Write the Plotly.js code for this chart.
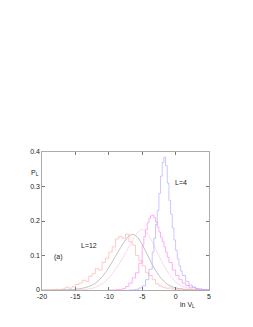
<!DOCTYPE html>
<html><head><meta charset="utf-8">
<script src="https://cdn.plot.ly/plotly-3.0.1.min.js"></script>
<style>html,body{margin:0;padding:0;background:#fff}</style>
</head><body><div id="chart" style="width:253px;height:327px"></div>
<script>
// L=4 histogram (blue)
const xBlue = [-7,-6,-5.5,-5,-4.5,-4,-3.5,-3.25,-3,-2.75,-2.5,-2.25,-2,-1.75,-1.5,-1.25,-1,-0.75,-0.5,-0.25,0,0.25,0.5,0.75,1,1.5,2,2.5,3,3.5,4,4.5,5];
const yBlue = [0,0.002,0.006,0.012,0.03,0.06,0.11,0.15,0.19,0.23,0.28,0.33,0.37,0.385,0.36,0.31,0.26,0.22,0.18,0.145,0.115,0.09,0.07,0.055,0.042,0.025,0.014,0.008,0.004,0.002,0.001,0.0005,0];
// magenta histogram
const xMag = [-10,-9,-8,-7.5,-7,-6.5,-6,-5.5,-5,-4.75,-4.5,-4.25,-4,-3.75,-3.5,-3.25,-3,-2.75,-2.5,-2.25,-2,-1.75,-1.5,-1.25,-1,-0.5,0,0.5,1,1.5,2,3,4,5];
const yMag = [0,0.001,0.004,0.01,0.02,0.035,0.05,0.078,0.13,0.155,0.175,0.195,0.207,0.215,0.217,0.21,0.197,0.183,0.168,0.153,0.14,0.125,0.11,0.095,0.08,0.058,0.042,0.03,0.02,0.013,0.008,0.003,0.001,0];
// pale pink curve
const xPale = [-15,-14,-13,-12,-11,-10,-9,-8,-7,-6,-5.5,-5,-4.5,-4,-3.5,-3,-2.5,-2,-1.5,-1,-0.5,0,1,2,3,4,5];
const yPale = [0,0.001,0.003,0.008,0.018,0.035,0.06,0.09,0.125,0.158,0.17,0.175,0.17,0.158,0.14,0.12,0.1,0.08,0.062,0.047,0.034,0.024,0.011,0.005,0.002,0.001,0];
// gray curve
const xGray = [-20,-16,-15,-14,-13,-12,-11,-10,-9,-8,-7.5,-7,-6.5,-6,-5.5,-5,-4.5,-4,-3.5,-3,-2.5,-2,-1.5,-1,0,1,2,5];
const yGray = [0,0.001,0.002,0.005,0.01,0.02,0.038,0.065,0.098,0.13,0.145,0.156,0.161,0.158,0.148,0.132,0.113,0.093,0.074,0.057,0.042,0.03,0.021,0.014,0.006,0.003,0.001,0];
// L=12 histogram (salmon)
const xRed = [-20,-18.5,-18,-17.5,-17,-16.5,-16,-15.5,-15,-14.5,-14,-13.5,-13,-12.5,-12,-11.5,-11,-10.5,-10,-9.5,-9,-8.5,-8,-7.5,-7,-6.5,-6,-5.5,-5,-4.5,-4,-3.5,-3,-2.5,-2,-1.5,-1,-0.5,0,1,2,3,5];
const yRed = [0,0.001,0.002,0.001,0.003,0.008,0.005,0.01,0.016,0.02,0.028,0.025,0.04,0.048,0.062,0.058,0.08,0.092,0.11,0.125,0.148,0.155,0.15,0.162,0.14,0.13,0.1,0.085,0.07,0.05,0.042,0.03,0.018,0.012,0.008,0.005,0.006,0.003,0.002,0.001,0.001,0,0];
const xTicks = [-20,-15,-10,-5,0,5];
const yTicks = [0,0.1,0.2,0.3,0.4];

const traces = [
  {x:xGray,y:yGray,mode:'lines',line:{color:'#a8a8a8',width:0.7,shape:'spline'}},
  {x:xPale,y:yPale,mode:'lines',line:{color:'#f6c8dc',width:0.7,shape:'spline'}},
  {x:xRed,y:yRed,mode:'lines',line:{color:'#ffb4b0',width:0.7,shape:'hv'}},
  {x:xMag,y:yMag,mode:'lines',line:{color:'#ff8cf2',width:0.7,shape:'hv'}},
  {x:xBlue,y:yBlue,mode:'lines',line:{color:'#b0b0ff',width:0.7,shape:'hv'}}
];
const font = {family:'Liberation Sans, Arial, sans-serif',size:7,color:'#222'};
const layout = {
  width:253,height:327,showlegend:false,
  margin:{l:42,r:44,t:152,b:37,pad:0},
  paper_bgcolor:'#fff',plot_bgcolor:'#fff',font:font,
  xaxis:{range:[-20,5],tickvals:xTicks,ticktext:xTicks.map(String),ticks:'inside',ticklen:3,tickcolor:'#777',
    showline:true,mirror:'ticks',linecolor:'#888',linewidth:0.7,showgrid:false,zeroline:false,tickfont:font},
  yaxis:{range:[0,0.4],tickvals:yTicks,ticktext:yTicks.map(String),ticks:'inside',ticklen:3,tickcolor:'#777',
    showline:true,mirror:'ticks',linecolor:'#888',linewidth:0.7,showgrid:false,zeroline:false,tickfont:font},
  annotations:[
    {x:0.87,y:0.311,xref:'x',yref:'y',text:'L=4',showarrow:false,font:font},
    {x:-12.96,y:0.128,xref:'x',yref:'y',text:'L=12',showarrow:false,font:font},
    {x:-17.46,y:0.096,xref:'x',yref:'y',text:'(a)',showarrow:false,font:font},
    {x:-0.08,y:0.89,xref:'paper',yref:'paper',text:'P<sub>L</sub>',showarrow:false,font:font},
    {x:0.93,y:-0.15,xref:'paper',yref:'paper',text:'ln V<sub>L</sub>',showarrow:false,font:font}
  ]
};
Plotly.newPlot('chart',traces,layout,{staticPlot:true,displayModeBar:false});
</script></body></html>
